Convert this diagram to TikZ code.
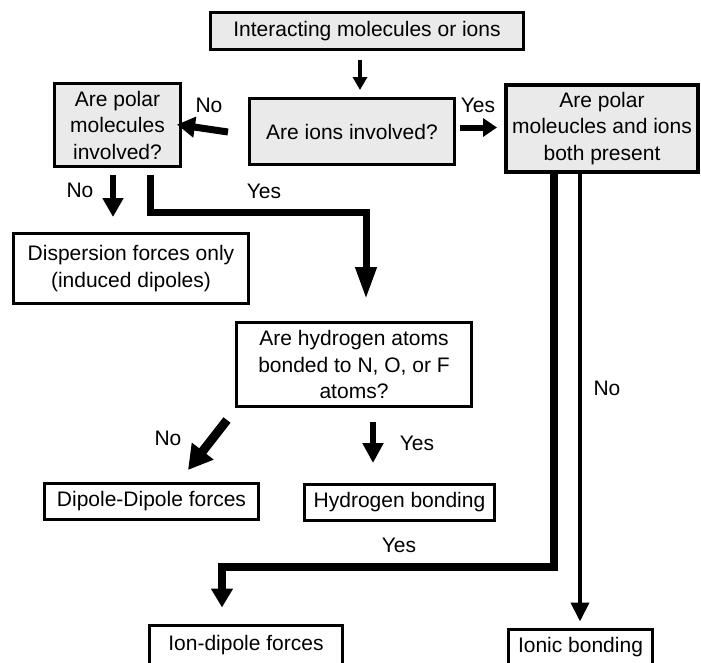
\documentclass[tikz,border=0pt]{standalone}
\usepackage{fontspec}
\setmainfont{Liberation Sans}
\usetikzlibrary{arrows.meta}
\definecolor{qfill}{RGB}{234,234,234}
\begin{document}
\begin{tikzpicture}[x=1pt,y=-1pt,
  every node/.style={font=\fontsize{21}{26.5}\selectfont, align=center, inner sep=0pt},
  qbox/.style={draw, line width=3pt, fill=qfill},
  abox/.style={draw, line width=3pt, fill=white},
  link/.style args={#1/#2/#3}{line width=#1, line join=miter, -{Triangle[length=#2,width=#3]}},
]
\clip (0,0) rectangle (701,662);
\fill[white] (0,0) rectangle (701,662);

% question boxes
\node[qbox, minimum width=313pt, minimum height=37pt] (top) at (367,31) {Interacting molecules or ions};
\node[qbox, minimum width=205pt, minimum height=66pt] (ions) at (352,131.5) {Are ions involved?};
\node[qbox, minimum width=126pt, minimum height=83pt] (polar) at (117.5,125) {Are polar\\molecules\\involved?};
\node[qbox, line width=4pt, minimum width=192pt, minimum height=87pt] (both) at (602,128.5) {Are polar\\moleucles and ions\\both present};
\node[abox, minimum width=235pt, minimum height=84pt] (hyd) at (354,364.5) {Are hydrogen atoms\\bonded to N, O, or F\\atoms?};

% answer boxes
\node[abox, minimum width=235pt, minimum height=70pt] (disp) at (131,268.5) {Dispersion forces only\\(induced dipoles)};
\node[abox, minimum width=214pt, minimum height=36pt] (dipole) at (151.5,501.5) {Dipole-Dipole forces};
\node[abox, minimum width=190pt, minimum height=36pt] (hbond) at (399.5,502.5) {Hydrogen bonding};
\node[abox, minimum width=193pt, minimum height=40pt] (iondip) at (246,645) {Ion-dipole forces};
\node[abox, minimum width=144pt, minimum height=37pt] (ionic) at (580.5,647.5) {Ionic bonding};

% connectors
\draw[link=4pt/13pt/14pt] ([shift={(-7,9)}]top.south) -- ([shift={(8,-7)}]ions.north);
\draw[link=7pt/18pt/20pt] ([shift={(-20,0.5)}]ions.west) -- ([shift={(-5,-7)}]polar.east |- ions.west);
\draw[link=6pt/14pt/18pt] ([shift={(4,-4)}]ions.east) -- ([shift={(-7,-1)}]both.west);
\draw[link=6pt/19pt/20pt] ([shift={(-4.5,7)}]polar.south) -- ([shift={(-18,-15)}]disp.north);
\draw[link=7pt/32pt/20pt] ([shift={(33,7)}]polar.south) -- ++(0,37) -| ([shift={(12,-22)}]hyd.north);
\draw[link=9pt/24pt/26pt] ([shift={(-8,12)}]hyd.south west) -- ([shift={(36.5,-12)}]dipole.north);
\draw[link=5.5pt/20pt/20pt] ([shift={(19,14)}]hyd.south) -- ([shift={(-26.5,-20)}]hbond.north);
\draw[link=8pt/19pt/21pt] ([shift={(-48,0)}]both.south) -- ++(0,393) -| ([shift={(-24,-16)}]iondip.north);
\draw[link=4pt/19pt/18pt] ([shift={(-22,0)}]both.south) -- ([shift={(-0.5,-6)}]ionic.north);

% answer labels
\node (noIons) at (209,105) {No};
\node (yesIons) at (478,105) {Yes};
\node (noPolar) at (80,190) {No};
\node (yesPolar) at (264,191) {Yes};
\node (noHyd) at (168,438) {No};
\node (yesHyd) at (417,443) {Yes};
\node (noBoth) at (607,388) {No};
\node (yesBoth) at (399,545) {Yes};
\end{tikzpicture}
\end{document}
